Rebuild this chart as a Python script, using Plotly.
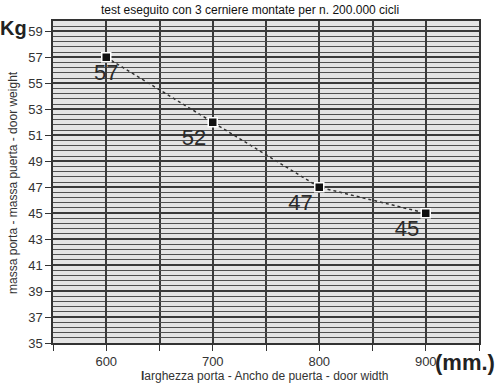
import plotly.graph_objects as go

widths = [600, 700, 800, 900]
weights = [57, 52, 47, 45]
weight_labels = ["57", "52", "47", "45"]
y_ticks = [35, 37, 39, 41, 43, 45, 47, 49, 51, 53, 55, 57, 59]
x_ticks = [600, 700, 800, 900]

FONT = "Liberation Sans, Arial, sans-serif"
GRID = "#3a3a3a"

fig = go.Figure()
fig.add_trace(go.Scatter(
    x=widths, y=weights, text=weight_labels,
    mode="lines+markers+text",
    textposition=["bottom center", "bottom left", "bottom left", "bottom left"],
    textfont=dict(family=FONT, size=22, color="#2a2a2a"),
    line=dict(color="#333333", width=1.5, dash="dot"),
    marker=dict(symbol="square", size=9, color="#111111",
                line=dict(color="white", width=1.5)),
    cliponaxis=False,
    showlegend=False,
))

fig.update_layout(
    width=500, height=387,
    margin=dict(l=53, r=21, t=21, b=44),
    paper_bgcolor="white",
    plot_bgcolor="#e4e4e4",
    title=dict(text="test eseguito con 3 cerniere montate per n. 200.000 cicli",
               x=0.5, xanchor="center", y=0.975, yanchor="middle",
               font=dict(family=FONT, size=12, color="#111111")),
    xaxis=dict(
        range=[550, 950], tickvals=x_ticks, ticktext=[str(v) for v in x_ticks],
        showgrid=True, gridcolor=GRID, gridwidth=2,
        minor=dict(dtick=50, tick0=550, showgrid=True, gridcolor=GRID, gridwidth=2,
                   ticks="outside", ticklen=6, tickcolor="#333"),
        ticks="outside", ticklen=6, tickcolor="#333",
        tickfont=dict(family=FONT, size=13, color="#333333"),
        showline=True, linecolor="#333333", linewidth=1.5, mirror=True,
        zeroline=False,
    ),
    yaxis=dict(
        range=[35, 59.8], tickvals=y_ticks, ticktext=[str(v) for v in y_ticks],
        showgrid=True, gridcolor=GRID, gridwidth=2,
        minor=dict(dtick=0.4, tick0=35, showgrid=True, gridcolor="#505050", gridwidth=1.3),
        ticks="outside", ticklen=6, tickcolor="#333",
        ticklabelstandoff=0,
        tickfont=dict(family=FONT, size=13, color="#333333"),
        showline=True, linecolor="#333333", linewidth=1.5, mirror=True,
        zeroline=False,
    ),
    annotations=[
        dict(text="<b>Kg</b>", xref="paper", yref="paper", x=-0.092, y=0.978,
             xanchor="center", yanchor="middle", showarrow=False,
             font=dict(family=FONT, size=20, color="#222222")),
        dict(text="<b>(mm.)</b>", xref="paper", yref="paper", x=1.042, y=-0.062,
             xanchor="right", yanchor="middle", showarrow=False,
             font=dict(family=FONT, size=22, color="#222222")),
        dict(text="<b>l</b>arghezza porta - Ancho de puerta - door width",
             xref="paper", yref="paper", x=0.498, y=-0.102, xanchor="center", yanchor="middle",
             showarrow=False,
             font=dict(family=FONT, size=12, color="#333333")),
        dict(text="massa porta - massa puerta - door weight",
             xref="paper", yref="paper", x=-0.094, y=0.5, xanchor="center", yanchor="middle",
             textangle=-90, showarrow=False,
             font=dict(family=FONT, size=12, color="#333333")),
    ],
)

fig.write_html("out.html", config={"displayModeBar": False},
               post_script="document.body.style.margin='0';document.body.style.padding='0';")
